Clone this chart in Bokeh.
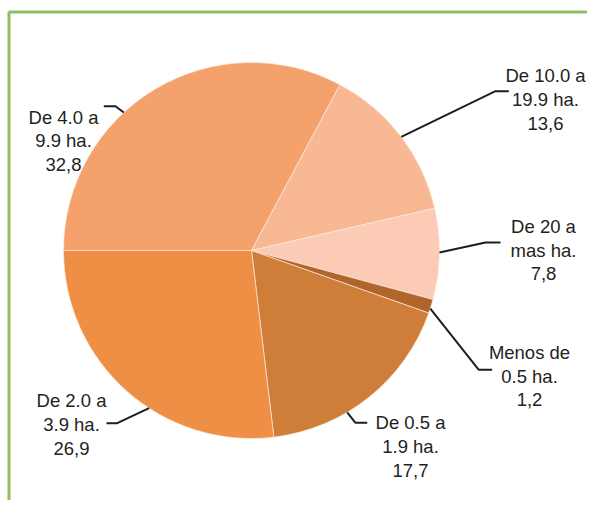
import numpy as np
from bokeh.plotting import figure
from bokeh.models import Range1d, ColumnDataSource
from bokeh.core.properties import value
from bokeh.embed import file_html
from bokeh.resources import INLINE

# ---- data (pie order, clockwise from 9 o'clock) ----
cat_line1 = ["De 4.0 a", "De 10.0 a", "De 20 a", "Menos de", "De 0.5 a", "De 2.0 a"]
cat_line2 = ["9.9 ha.", "19.9 ha.", "mas ha.", "0.5 ha.", "1.9 ha.", "3.9 ha."]
values = [32.8, 13.6, 7.8, 1.2, 17.7, 26.9]
colors = ["#F5A16B", "#F8B894", "#FCCBB5", "#B0652A", "#CF7E3A", "#EF8F46"]

# ---- layout (screen px) ----
W, H = 587, 500
CX, CY, R = 251, 250, 188
START_DEG = 270.0  # clockwise from 12 o'clock

def Y(sy):
    return H - np.asarray(sy, dtype=float)

vals = np.array(values)
cum = np.concatenate([[0], np.cumsum(vals)[:-1]])
theta_a = START_DEG + 3.6 * cum
theta_b = theta_a + 3.6 * vals
start = np.deg2rad(90 - theta_b)
end = np.deg2rad(90 - theta_a)

p = figure(width=W, height=H, output_backend="svg", toolbar_location=None,
           x_range=Range1d(0, W), y_range=Range1d(0, H),
           min_border=0, outline_line_color=None)
p.axis.visible = False
p.grid.visible = False
p.background_fill_color = "white"
p.border_fill_color = "white"

# green frame (top and left)
p.line([8, W + 5], Y([11.5, 11.5]), line_color="#8DC063", line_width=3)
p.line([8.5, 8.5], Y([11.5, H + 5]), line_color="#8DC063", line_width=3)

src = ColumnDataSource(dict(x=[CX] * len(vals), y=list(Y([CY] * len(vals))),
                            start=start, end=end, color=colors))
p.wedge(x="x", y="y", radius=R, start_angle="start", end_angle="end",
        direction="anticlock", fill_color="color", line_color="#FBE9DE",
        line_width=0.7, source=src)

# leader lines
edge_deg = [317.2, 52.8, 90.6, 108.0, 149.4, 213.0]
elbow = [(115, 105.7), (495, 90.7), (485, 242), (478.3, 369.3), (355, 422.3), (116.7, 422.7)]
stub_end = [103.3, 508.3, 500, 491.7, 366.7, 106]
xs, ys = [], []
for th, (ex, ey), sx in zip(edge_deg, elbow, stub_end):
    t = np.deg2rad(th)
    px, py = CX + R * np.sin(t), CY - R * np.cos(t)
    xs.append([px, ex, sx])
    ys.append(list(Y([py, ey, ey])))
p.multi_line(xs, ys, line_color="#1E1E1E", line_width=2)

# labels
lab_x = [63, 545, 543, 529, 410, 71]
lab_base = [116.5, 75, 225.7, 351.7, 422, 400]
LS = 23.8
val_txt = [f"{v:.1f}".replace(".", ",") for v in values]
tx, ty, tt = [], [], []
for i in range(len(values)):
    for j, t in enumerate([cat_line1[i], cat_line2[i], val_txt[i]]):
        tx.append(lab_x[i])
        ty.append(float(Y(lab_base[i] + j * LS)))
        tt.append(t)
p.text(x=tx, y=ty, text=tt, text_align="center", text_baseline="alphabetic",
       text_font=value("Liberation Sans"), text_font_size="18.5px",
       text_color="#231F20")

open("out.html", "w").write(file_html(p, INLINE))
